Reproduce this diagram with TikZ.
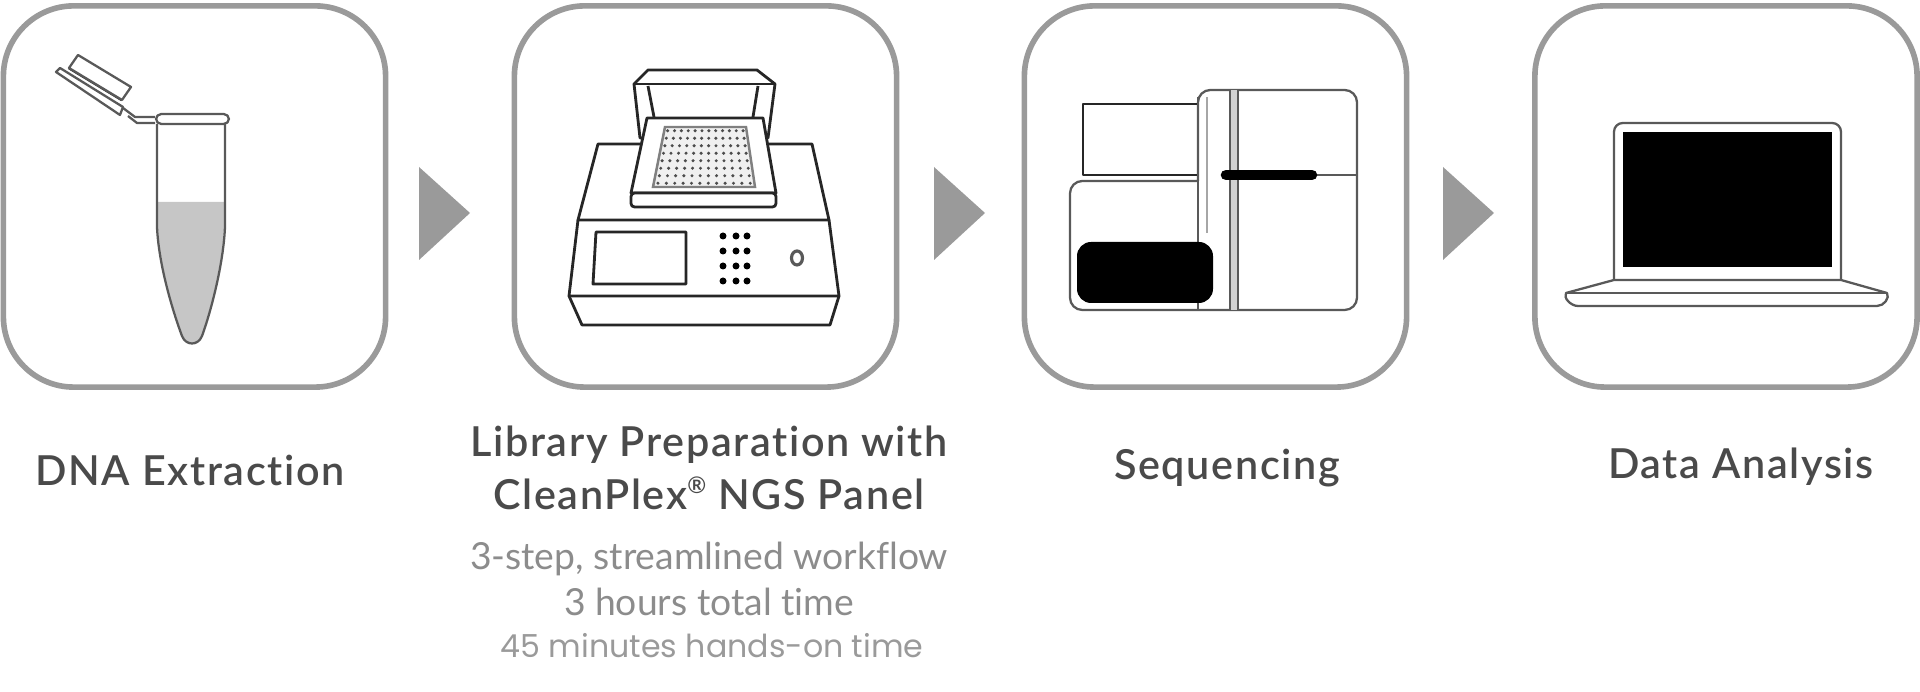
\documentclass[tikz,border=0pt]{standalone}
\usepackage{fontspec}
\setmainfont{Lato}[Ligatures=NoCommon]
\newfontfamily\headfont{Lato Semibold}[Ligatures=NoCommon,LetterSpace=4]
\newfontfamily\notefont{Poppins}
\definecolor{framegray}{HTML}{9A9A9A}
\definecolor{headgray}{HTML}{4A4A4A}
\definecolor{subgray}{HTML}{8C8C8C}
\tikzset{
  stepbox/.style={draw=framegray,line width=1.6pt,rounded corners=20pt,minimum width=3.82cm,minimum height=3.81cm,inner sep=0pt},
  steplabel/.style={text=headgray,align=center,inner sep=0pt,font=\headfont\fontsize{11.75}{14.9}\selectfont},
  sublabel/.style={text=subgray,align=center,inner sep=0pt,font=\fontsize{10.6}{13}\selectfont},
  thinline/.style={draw=black!85,line width=0.8pt,line join=round},
  softline/.style={draw=black!65,line width=0.65pt,line join=round},
}
\begin{document}
\begin{tikzpicture}[x=0.01cm,y=-0.01cm]
  \useasboundingbox (0,0) rectangle (1920,692);

  \node[stepbox] (extraction) at (194.5,196.5) {};
  \node[stepbox] (library) at (705.5,196.5) {};
  \node[stepbox] (sequencing) at (1215.5,196.5) {};
  \node[stepbox] (analysis) at (1726,196.5) {};

  \foreach \x in {419,934,1443} {
    \fill[framegray] (\x,167) -- (\x+51,213) -- (\x,260) -- cycle;
  }

  % tube
  \fill[gray!45] (158,202) -- (224,202) -- (224,227) .. controls (222,270) and (207,320) .. (201,336)
    .. controls (197,345) and (187,345) .. (183,336) .. controls (177,320) and (160,270) .. (158,227) -- cycle;
  \draw[softline] (157,124) -- (157,227) .. controls (159,270) and (176,320) .. (182,336)
    .. controls (186,346) and (198,346) .. (202,336) .. controls (208,320) and (223,270) .. (225,227) -- (225,124);
  \draw[softline,rounded corners=1.5pt] (156,114) rectangle (229,124);
  \draw[softline] (56,72) -- (60,68) -- (123,107) -- (120,115) -- cycle;
  \draw[thinline] (69,68) -- (122,100);
  \draw[softline,fill=white] (69,68) -- (78,55) -- (131,87) -- (122,100) -- cycle;
  \draw[softline] (123,108) -- (135,117) -- (155,117);
  \draw[softline] (128,116) -- (137,123) -- (155,123);

  % cycler
  \draw[thinline] (598,144) -- (812,144) -- (829,220) -- (578,220) -- cycle;
  \draw[thinline] (578,220) -- (569,296) -- (839,296) -- (829,220);
  \draw[thinline] (569,296) -- (582,325) -- (830,325) -- (839,296);
  \draw[thinline] (596,232) -- (686,232) -- (686,284) -- (593,284) -- cycle;
  \foreach \x in {723,736,747} {
    \foreach \y in {236,251,266,281} {
      \fill[black] (\x,\y) circle (3.5);
    }
  }
  \draw[softline,line width=0.9pt] (797,258) ellipse (5.5 and 7);
  \draw[thinline,fill=white] (640,138) -- (634,84) -- (648,70) -- (757,70) -- (775,84) -- (768,138) -- cycle;
  \draw[thinline] (634,84) -- (775,84);
  \draw[thinline] (648,86) -- (654,117);
  \draw[thinline] (758,86) -- (753,117);
  \draw[thinline,fill=white] (647,118) -- (763,118) -- (776,193) -- (631,193) -- cycle;
  \draw[thinline,fill=white,rounded corners=1pt] (631,193) rectangle (776,207);
  \draw[draw=gray,line width=0.7pt,fill=gray!12] (665,127) -- (746,127) -- (755,187) -- (653,187) -- cycle;
  \foreach \i in {0,...,11} {
    \foreach \j in {0,...,7} {
      \pgfmathsetmacro{\wl}{665-12*(\j+.5)/8}
      \pgfmathsetmacro{\wr}{746+9*(\j+.5)/8}
      \fill[black!70] ({\wl+(\wr-\wl)*(\i+.5)/12},{127+60*(\j+.5)/8}) circle (1.7);
    }
  }

  % sequencer
  \draw[softline,rounded corners=3.5pt] (1198,181) -- (1070,181) -- (1070,310) -- (1357,310) -- (1357,90) -- (1198,90) -- (1198,181);
  \draw[thinline] (1083,104) rectangle (1198,175);
  \draw[softline] (1198,97) -- (1198,310);
  \draw[draw=black!35,line width=0.6pt] (1207,97) -- (1207,233);
  \fill[gray!35] (1230,90) rectangle (1238,310);
  \draw[softline] (1230,90) -- (1230,310);
  \draw[softline] (1238,90) -- (1238,310);
  \draw[softline] (1315,175) -- (1357,175);
  \draw[black,line width=3pt,line cap=round] (1226,175) -- (1312,175);
  \fill[black,rounded corners=4pt] (1077,242) rectangle (1213,303);

  % laptop
  \draw[softline,rounded corners=2.5pt] (1614,280) -- (1614,123) -- (1841,123) -- (1841,280);
  \fill[black] (1623,132) rectangle (1832,267);
  \draw[softline] (1614,280) -- (1841,280) -- (1887,293) .. controls (1890,298) and (1884,306) .. (1877,306)
    -- (1578,306) .. controls (1571,306) and (1563,298) .. (1566,293) -- cycle;
  \draw[softline] (1566,293) -- (1887,293);

  % texts
  \node[steplabel] (extractionlabel) at (190,470) {DNA Extraction};
  \node[steplabel] (librarylabel) at (709,468) {Library Preparation with\\CleanPlex\raisebox{0.75ex}{\fontsize{6.5}{7}\selectfont ®} NGS Panel};
  \node[sublabel] (librarysteps) at (709,579) {3-step, streamlined workflow\\3 hours total time};
  \node[sublabel,font=\notefont\fontsize{9}{11}\selectfont,text=framegray] (librarytime) at (712,646) {45 minutes hands-on time};
  \node[steplabel] (sequencinglabel) at (1227,468) {Sequencing};
  \node[steplabel] (analysislabel) at (1741,467) {Data Analysis};
\end{tikzpicture}
\end{document}
